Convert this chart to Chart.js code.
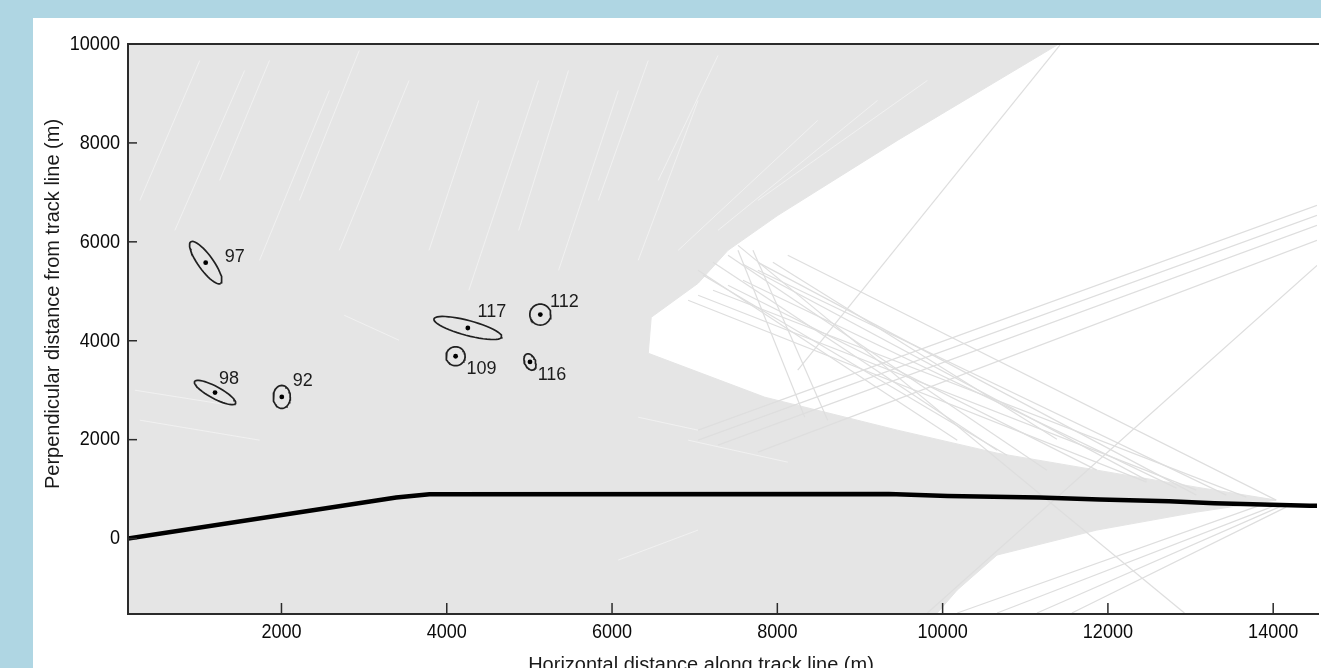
<!DOCTYPE html>
<html><head><meta charset="utf-8">
<script src="https://cdn.jsdelivr.net/npm/chart.js@4.4.1/dist/chart.umd.min.js"></script>
<style>html,body{margin:0;padding:0;background:#afd6e3;overflow:hidden}
canvas{display:block}</style></head><body>
<canvas id="c" width="1321" height="668"></canvas>
<script>
// ---------- data ----------
const xTicks = [2000, 4000, 6000, 8000, 10000, 12000, 14000];
const yTicks = [0, 2000, 4000, 6000, 8000, 10000];

// track line (black)
const trackX = [143, 3388, 3790, 9350, 10060, 11170, 11900, 12740, 13290, 14440, 14600];
const trackY = [0, 830, 895, 900, 860, 830, 790, 755, 715, 665, 660];

// localisations
const locLabels = ['97', '98', '92', '117', '112', '109', '116'];
const locX = [1083, 1196, 2004, 4255, 5132, 4107, 5007];
const locY = [5579, 2953, 2864, 4258, 4529, 3687, 3571];
// ellipse conjugate semi-diameters (data units)
const ellAX = [181, 247, 103, 410, 127, 115, 72];
const ellAY = [-420, -222, 0, -182, 0, 0, -30];
const ellBX = [73, 34, 0, 23, 0, 0, -12];
const ellBY = [89, 107, 232, 146, 212, 192, 162];

// dense mass of bearing lines (outline, data units)
const massX = [-500, 11407, 9453, 8006, 7403, 7041, 6474, 6438, 7849, 9453, 10659, 11865, 13071, 14036, 13071, 11865, 10659, 10177, 9935, 9800, -500];
const massY = [10600, 10000, 8050, 6535, 5828, 5161, 4474, 3747, 2858, 2192, 1727, 1384, 1040, 778, 535, 172, -333, -1040, -1505, -2000, -2000];

// sparse bearing lines (start/end, data units)
const lineX1 = [11419, 7041, 7041, 7282, 7765, 9815, 7524, 7403, 7222, 7584, 7765, 7041, 7524, 7705,
                6920, 7041, 7222, 7403, 7584, 7765, 7946, 8126, 7102,
                10177, 10659, 11142, 11564];
const lineY1 = [9979, 2192, 1990, 1889, 1747, -1505, 5929, 5727, 5585, 5545, 5585, 5424, 5828, 5828,
                4818, 4919, 5020, 5121, 5222, 5424, 5585, 5727, 5323,
                -1505, -1505, -1505, -1505];
const lineX2 = [8247, 14530, 14530, 14530, 14530, 14530, 12926, 11262, 10659, 12468, 13071, 10177, 8332, 8609,
                12468, 13071, 13674, 11865, 12830, 13433, 11383, 14036, 10780,
                13915, 14036, 14096, 14156];
const lineY2 = [3404, 6737, 6535, 6333, 6030, 5525, -1505, 1384, 1788, 1182, 879, 1990, 2454, 2394,
                1141, 980, 838, 1384, 1020, 879, 2010, 778, 1687,
                717, 677, 657, 636];

// gaps between bearing lines inside the dense mass (start/end, data units)
const gapX1 = [287, 710, 1252, 1735, 2217, 2699, 3785, 4267, 4870, 5353, 5835, 6317, 6559, 6800, 7282, 7765, 227, 287, 2760, 6317, 6920, 6076];
const gapY1 = [6838, 6232, 7242, 5626, 6838, 5828, 5828, 5020, 6232, 5424, 6838, 5626, 7242, 5828, 6232, 6838, 3000, 2394, 4515, 2454, 1990, -434];
const gapX2 = [1011, 1554, 1855, 2579, 2941, 3544, 4388, 5111, 5473, 6076, 6438, 7041, 7282, 8488, 9212, 9815, 1373, 1735, 3423, 7041, 8126, 7041];
const gapY2 = [9666, 9464, 9666, 9060, 9868, 9262, 8858, 9262, 9464, 9060, 9666, 8858, 9767, 8454, 8858, 9262, 2697, 1990, 4010, 2192, 1545, 172];

// ---------- drawing ----------
const GRAY = '#e5e5e5';
const datasets = [];
datasets.push({
  data: massX.map((x, i) => ({x, y: massY[i]})),
  showLine: true, fill: 'shape', backgroundColor: GRAY, borderColor: GRAY,
  borderWidth: 1, pointRadius: 0, order: 10
});
for (let i = 0; i < gapX1.length; i++) {
  datasets.push({
    data: [{x: gapX1[i], y: gapY1[i]}, {x: gapX2[i], y: gapY2[i]}],
    showLine: true, borderColor: 'rgba(255,255,255,0.45)', borderWidth: 1, pointRadius: 0, order: 9
  });
}
for (let i = 0; i < lineX1.length; i++) {
  datasets.push({
    data: [{x: lineX1[i], y: lineY1[i]}, {x: lineX2[i], y: lineY2[i]}],
    showLine: true, borderColor: '#dedede', borderWidth: 1.2, pointRadius: 0, order: 8
  });
}
datasets.push({
  data: trackX.map((x, i) => ({x, y: trackY[i]})),
  showLine: true, borderColor: '#000', borderWidth: 4.5, pointRadius: 0, order: 3
});
for (let i = 0; i < locX.length; i++) {
  const pts = [];
  for (let k = 0; k <= 48; k++) {
    const t = k / 48 * 2 * Math.PI;
    pts.push({x: locX[i] + Math.cos(t) * ellAX[i] + Math.sin(t) * ellBX[i],
              y: locY[i] + Math.cos(t) * ellAY[i] + Math.sin(t) * ellBY[i]});
  }
  datasets.push({data: pts, showLine: true, borderColor: '#202020', borderWidth: 1.7,
    pointRadius: 0, order: 2});
}
datasets.push({
  data: locX.map((x, i) => ({x, y: locY[i]})),
  showLine: false, pointRadius: 2.4, pointBackgroundColor: '#000', pointBorderWidth: 0, order: 1
});

const labelOffsets = [[29, -6], [14, -13], [21, -16], [24, -16], [24, -13], [26, 13], [22, 13]];

const deco = {
  id: 'deco',
  beforeDraw(chart) {
    const c = chart.ctx;
    c.save();
    c.fillStyle = '#afd6e3'; c.fillRect(0, 0, chart.width, chart.height);
    c.fillStyle = '#ffffff'; c.fillRect(33, 18, chart.width - 33, chart.height - 18);
    c.restore();
  },
  afterDraw(chart) {
    const c = chart.ctx, a = chart.chartArea;
    const xs = chart.scales.x, ys = chart.scales.y;
    c.save();
    // frame
    c.strokeStyle = '#2b2b2b'; c.lineWidth = 2;
    c.beginPath();
    c.moveTo(a.right + 2, a.top); c.lineTo(a.left, a.top); c.lineTo(a.left, a.bottom); c.lineTo(a.right + 2, a.bottom);
    c.stroke();
    // inward ticks and labels
    c.lineWidth = 1.5;
    c.fillStyle = '#0a0a0a';
    c.font = '21px "Liberation Sans", Arial, sans-serif';
    xs.ticks.forEach(t => {
      const px = xs.getPixelForValue(t.value);
      c.beginPath(); c.moveTo(px, a.bottom); c.lineTo(px, a.bottom - 11); c.stroke();
      c.save(); c.translate(px, a.bottom + 18); c.scale(0.86, 1);
      c.textAlign = 'center'; c.textBaseline = 'middle'; c.fillText(String(t.value), 0, 0); c.restore();
    });
    ys.ticks.forEach(t => {
      const py = ys.getPixelForValue(t.value);
      c.beginPath(); c.moveTo(a.left, py); c.lineTo(a.left + 9, py); c.stroke();
      c.save(); c.translate(a.left - 8, py); c.scale(0.86, 1);
      c.textAlign = 'right'; c.textBaseline = 'middle'; c.fillText(String(t.value), 0, 0); c.restore();
    });
    // axis titles
    c.font = '20px "Liberation Sans", Arial, sans-serif';
    c.fillStyle = '#1a1a1a';
    c.textAlign = 'center'; c.textBaseline = 'middle';
    c.fillText('Horizontal distance along track line (m)', 701, 665);
    c.save(); c.translate(53, 304); c.rotate(-Math.PI / 2);
    c.fillText('Perpendicular distance from track line (m)', 0, 0); c.restore();
    // localisation labels
    c.font = '18px "Liberation Sans", Arial, sans-serif';
    c.fillStyle = '#1c1c1c';
    locLabels.forEach((s, i) => {
      const px = xs.getPixelForValue(locX[i]) + labelOffsets[i][0];
      const py = ys.getPixelForValue(locY[i]) + labelOffsets[i][1];
      c.fillText(s, px, py);
    });
    c.restore();
  }
};

new Chart(document.getElementById('c'), {
  type: 'scatter',
  data: {datasets},
  options: {
    responsive: false, devicePixelRatio: 1, animation: false,
    layout: {padding: {top: 44, right: 0, bottom: 0, left: 0}},
    plugins: {legend: {display: false}, tooltip: {enabled: false}},
    scales: {
      x: {type: 'linear', min: 143, max: 14530,
          grid: {display: false, drawTicks: false}, border: {display: false},
          ticks: {display: false},
          afterBuildTicks: s => { s.ticks = xTicks.map(v => ({value: v})); },
          afterFit: s => { s.height = 54; }},
      y: {type: 'linear', min: -1525, max: 10000,
          grid: {display: false, drawTicks: false}, border: {display: false},
          ticks: {display: false},
          afterBuildTicks: s => { s.ticks = yTicks.map(v => ({value: v})); },
          afterFit: s => { s.width = 128; }}
    }
  },
  plugins: [deco]
});
</script></body></html>
